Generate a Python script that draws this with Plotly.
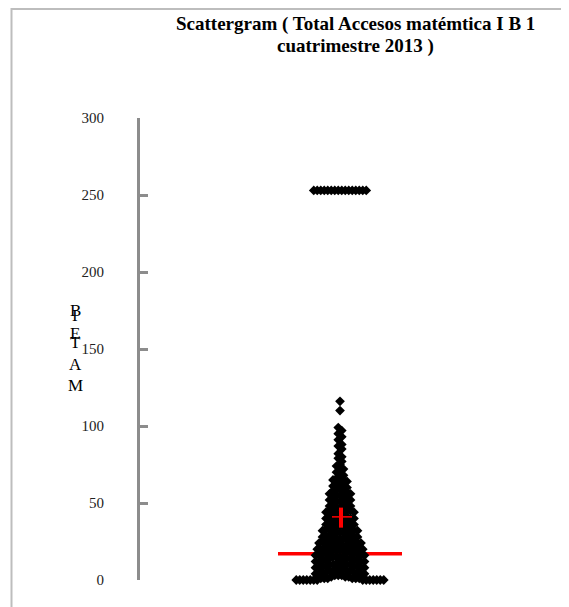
import numpy as np
import plotly.graph_objects as go

# ---- data ----
accesos = [0, 1, 2, 3, 4, 5, 6, 7, 8, 9, 10, 11, 12, 13, 14, 15, 16, 17, 18, 19,
           20, 21, 22, 23, 24, 25, 26, 27, 28, 29, 30, 31, 32, 33, 34, 35, 36, 37, 38, 39,
           40, 41, 42, 43, 44, 45, 46, 47, 48, 49, 50, 51, 52, 53, 54, 55, 56, 57, 58, 59,
           60, 61, 62, 63, 64, 65, 66, 67, 68, 70, 71, 72, 74, 75, 77, 79, 80, 82, 85, 87,
           88, 91, 93, 95, 97, 99, 110, 116, 253]
alumnos = [14, 6, 3, 3, 4, 4, 4, 3, 4, 4, 4, 3, 4, 4, 3, 4, 4, 4, 3, 4,
           4, 3, 4, 3, 3, 4, 3, 3, 3, 3, 2, 3, 3, 3, 2, 3, 2, 3, 2, 2,
           3, 2, 2, 2, 2, 3, 2, 2, 2, 2, 1, 2, 2, 2, 1, 2, 2, 1, 2, 2,
           1, 2, 1, 1, 1, 2, 1, 1, 1, 1, 1, 1, 1, 1, 1, 1, 1, 1, 1, 1,
           1, 1, 1, 1, 1, 1, 1, 1, 16]

linea_horizontal = 17          # long red line
media = 41                     # red cross centre
intervalo = [34, 47]           # red vertical bar

y_ticks = [0, 50, 100, 150, 200, 250, 300]
titulo = ["Scattergram ( Total Accesos matémtica I B 1", "cuatrimestre 2013 )"]
etiqueta_y = ["B", "I", "E", "T", "A", "M"]

SERIF = "Times New Roman, Liberation Serif, DejaVu Serif, serif"

# ---- build dot-stack (beeswarm-like) offsets ----
ys = np.repeat(np.array(accesos, dtype=float), alumnos)
step = 0.0175
bins = np.where(ys > 200, 1000, ys // 4)
xs = np.zeros_like(ys)
for b in np.unique(bins):
    idx = np.where(bins == b)[0]
    idx = idx[np.argsort(-ys[idx], kind="stable")]
    n = len(idx)
    slots = (np.arange(n) - (n - 1) / 2) * step
    order = np.argsort(np.abs(slots) + 1e-6 * np.sign(slots), kind="stable")
    xs[idx] = slots[order]

# page offset (body margin 8px): figure coords = page coords - 8
L, T, PW, PH = 132, 110, 400, 462
W, H = 561, 599

def px_x(p):  # page x -> paper x
    return (p - 8 - L) / PW

def px_y(p):  # page y -> paper y
    return (T + PH - (p - 8)) / PH

fig = go.Figure()

# points
fig.add_trace(go.Scatter(
    x=xs, y=ys, mode="markers",
    marker=dict(symbol="diamond", size=7.5, color="black", line=dict(width=0)),
    cliponaxis=False, hoverinfo="y", showlegend=False))

# red cross (on top)
fig.add_trace(go.Scatter(
    x=[0.005, 0.005], y=intervalo, mode="lines",
    line=dict(color="#ff0000", width=4), showlegend=False, hoverinfo="skip"))
fig.add_trace(go.Scatter(
    x=[-0.04, 0.06], y=[media, media], mode="lines",
    line=dict(color="#ff0000", width=1.5), showlegend=False, hoverinfo="skip"))

# long red line (behind points)
fig.add_shape(type="line", xref="x", yref="y", x0=-0.31, x1=0.31,
              y0=linea_horizontal, y1=linea_horizontal,
              line=dict(color="#ff0000", width=3.5), layer="below")

# outer frame
fig.add_shape(type="rect", xref="paper", yref="paper",
              x0=px_x(11.5), x1=px_x(566), y0=px_y(640), y1=px_y(9),
              line=dict(color="#bdbdbd", width=2), layer="below")

# title (two lines, tight spacing)
for line_txt, ypx in zip(titulo, [24, 46]):
    fig.add_annotation(text="<b>" + line_txt + "</b>", xref="paper", yref="paper",
                       x=px_x(355), y=px_y(ypx),
                       xanchor="center", yanchor="middle", showarrow=False,
                       font=dict(family=SERIF, size=19, color="black"))

# stacked y-axis label
label_y_px = [310, 315, 333, 342, 364, 385]
for ch, ypx in zip(etiqueta_y, label_y_px):
    fig.add_annotation(text=ch, xref="paper", yref="paper",
                       x=px_x(75), y=px_y(ypx),
                       xanchor="center", yanchor="middle", showarrow=False,
                       font=dict(family=SERIF, size=17, color="black"))

fig.update_layout(
    width=W, height=H,
    margin=dict(l=L, r=W - L - PW, t=T, b=H - T - PH),
    paper_bgcolor="white", plot_bgcolor="white",
    showlegend=False,
    xaxis=dict(range=[-1, 1], visible=False, fixedrange=True),
    yaxis=dict(range=[0, 300], tickvals=y_ticks, ticktext=[str(v) for v in y_ticks],
               showgrid=False, zeroline=False,
               showline=True, linecolor="#8c8c8c", linewidth=3,
               ticks="inside", ticklen=8, tickwidth=3, tickcolor="#8c8c8c",
               ticklabelstandoff=30,
               tickfont=dict(family=SERIF, size=15, color="#222222")),
)

fig.write_html("out.html")
